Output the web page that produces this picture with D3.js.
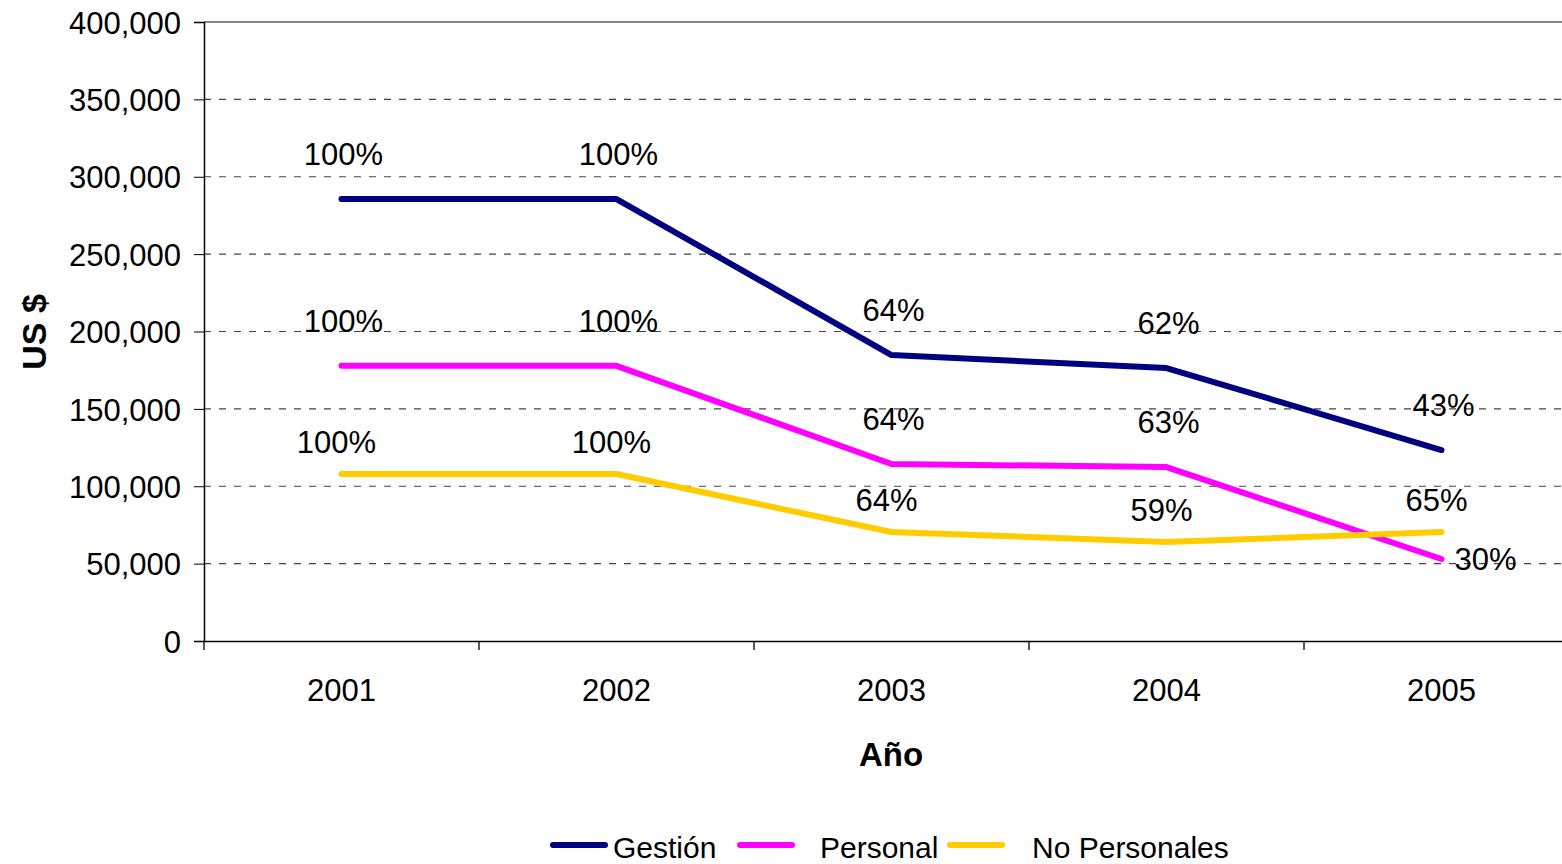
<!DOCTYPE html>
<html>
<head>
<meta charset="utf-8">
<script src="https://cdn.jsdelivr.net/npm/d3@7"></script>
<style>
  body { margin: 0; background: #fff; }
  svg text { font-family: "Liberation Sans", Arial, sans-serif; fill: #000; }
</style>
</head>
<body>
<script>

// data
var years = ["2001", "2002", "2003", "2004", "2005"];
var gestion = [285600, 285600, 184800, 176400, 123400];
var personal = [177800, 177800, 114400, 112400, 53000];
var noPersonales = [107900, 107900, 70400, 64000, 70400];
var gestionPct = ["100%", "100%", "64%", "62%", "43%"];
var personalPct = ["100%", "100%", "64%", "63%", "30%"];
var noPersonalesPct = ["100%", "100%", "64%", "59%", "65%"];
var yTicks = [0, 50000, 100000, 150000, 200000, 250000, 300000, 350000, 400000];

var series = [
  { name: "Gestión", values: gestion, pct: gestionPct, color: "#000080", dx: 2, dy: -34 },
  { name: "Personal", values: personal, pct: personalPct, color: "#ff00ff", dx: 2, dy: -34 },
  { name: "No Personales", values: noPersonales, pct: noPersonalesPct, color: "#ffcc00", dx: -5, dy: -21 }
];

var width = 1562, height = 864;
var plotLeft = 204, plotRight = 1579, plotTop = 22, plotBottom = 641;
var fontSize = "31px";

var svg = d3.select("body").append("svg").attr("width", width).attr("height", height);

var x = d3.scaleBand().domain(years).range([plotLeft, plotRight]);
var y = d3.scaleLinear().domain([0, 400000]).range([plotBottom, plotTop]);

var fmt = d3.format(",");

// gridlines
svg.append("g").selectAll("line")
   .data(yTicks.filter(function(d) { return d > 0 && d < 400000; }))
   .enter().append("line")
   .attr("x1", plotLeft).attr("x2", plotRight)
   .attr("y1", function(d) { return y(d); }).attr("y2", function(d) { return y(d); })
   .style("stroke", "#444").style("stroke-width", 1.2).style("stroke-dasharray", "7,8");

// top border
svg.append("line").attr("x1", plotLeft).attr("x2", plotRight).attr("y1", plotTop).attr("y2", plotTop)
   .style("stroke", "#888").style("stroke-width", 2);

// y axis
var yAxis = svg.append("g").attr("transform", "translate(" + plotLeft + ",0)")
   .call(d3.axisLeft(y).tickValues(yTicks).tickFormat(fmt).tickSize(10).tickPadding(13));
yAxis.select(".domain").style("stroke", "#000").style("stroke-width", 1.5);
yAxis.selectAll(".tick line").style("stroke", "#000");
yAxis.selectAll("text").style("font-size", fontSize).attr("dy", "0.36em")
     .style("font-family", "'Liberation Sans', Arial, sans-serif");

// x axis
var xAxis = svg.append("g").attr("transform", "translate(0," + plotBottom + ")")
   .call(d3.axisBottom(x).tickSize(0).tickPadding(0));
xAxis.select(".domain").style("stroke", "#000").style("stroke-width", 1.5);
xAxis.selectAll(".tick text").attr("y", 60).attr("dy", 0).style("font-size", fontSize)
     .style("font-family", "'Liberation Sans', Arial, sans-serif");
xAxis.selectAll(".tick line").remove();

// ticks at band boundaries
var bounds = years.map(function(d) { return x(d); });
svg.append("g").selectAll("line").data(bounds).enter().append("line")
   .attr("x1", function(d) { return d; }).attr("x2", function(d) { return d; })
   .attr("y1", plotBottom).attr("y2", plotBottom + 9)
   .style("stroke", "#000").style("stroke-width", 1.3);

var cx = function(d, i) { return x(years[i]) + x.bandwidth() / 2; };

var line = d3.line()
  .x(function(d, i) { return x(years[i]) + x.bandwidth() / 2; })
  .y(function(d) { return y(d); });

series.forEach(function(s) {
  svg.append("path")
     .datum(s.values)
     .attr("d", line)
     .style("fill", "none")
     .style("stroke", s.color)
     .style("stroke-width", 6)
     .style("stroke-linecap", "round")
     .style("stroke-linejoin", "round");
});

// percentage labels
series.forEach(function(s) {
  svg.append("g").selectAll("text").data(s.values).enter().append("text")
     .attr("x", function(d, i) {
        if (s.name === "Personal" && i === 4) return cx(d, i) + 13;
        return cx(d, i) + s.dx;
     })
     .attr("y", function(d, i) {
        if (s.name === "Personal" && i === 4) return y(d) + 11;
        return y(d) + s.dy;
     })
     .attr("text-anchor", function(d, i) { return (s.name === "Personal" && i === 4) ? "start" : "middle"; })
     .style("font-size", fontSize)
     .text(function(d, i) { return s.pct[i]; });
});

// axis titles
svg.append("text")
   .attr("transform", "translate(46,332) rotate(-90)")
   .attr("text-anchor", "middle")
   .style("font-size", "34px").style("font-weight", "bold")
   .text("US $");

svg.append("text")
   .attr("x", 891).attr("y", 766)
   .attr("text-anchor", "middle")
   .style("font-size", "33px").style("font-weight", "bold")
   .text("Año");

// legend
var legendItems = [
  { s: series[0], x1: 553, tx: 613 },
  { s: series[1], x1: 740, tx: 820 },
  { s: series[2], x1: 950, tx: 1032 }
];
var legend = svg.append("g");
legendItems.forEach(function(d) {
  legend.append("line")
        .attr("x1", d.x1).attr("x2", d.x1 + 52)
        .attr("y1", 845).attr("y2", 845)
        .style("stroke", d.s.color).style("stroke-width", 6).style("stroke-linecap", "round");
  legend.append("text")
        .attr("x", d.tx).attr("y", 858)
        .style("font-size", "30px")
        .text(d.s.name);
});

</script>
</body>
</html>
